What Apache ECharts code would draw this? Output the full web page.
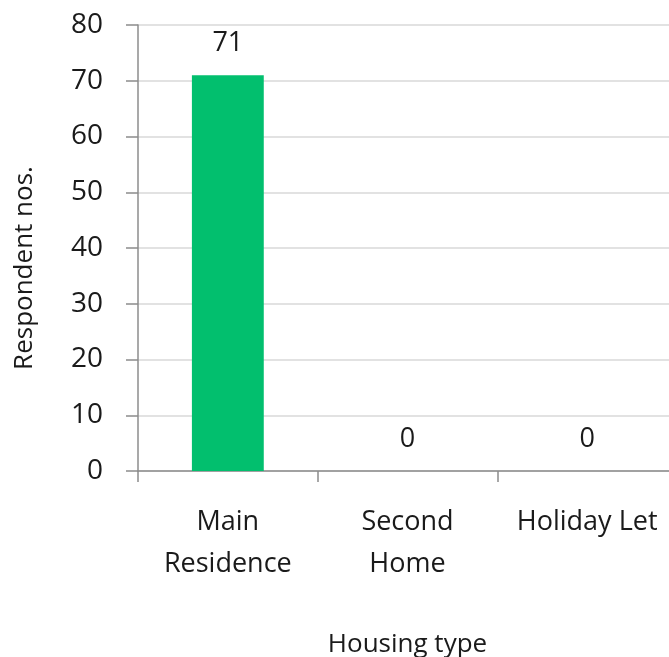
<!DOCTYPE html>
<html>
<head>
<meta charset="utf-8">
<script src="https://cdn.jsdelivr.net/npm/echarts@6/dist/echarts.min.js"></script>
<style>
html,body{margin:0;padding:0;background:#fff;}
#chart{width:669px;height:657px;}
</style>
</head>
<body>
<div id="chart"></div>
<script>
const categories = ['Main\nResidence', 'Second\nHome', 'Holiday Let'];
const respondents = [71, 0, 0];
const yMin = 0, yMax = 80, yInterval = 10;
const yAxisTitle = 'Respondent nos.';
const xAxisTitle = 'Housing type';

const FONT = 'Open Sans';
const TXT = '#1a1a1a';
const AXIS = '#8c8c8c';

const chart = echarts.init(document.getElementById('chart'), null, {renderer: 'canvas'});
chart.setOption({
  backgroundColor: '#ffffff',
  animation: false,
  grid: {left: 138, top: 25, width: 539, height: 446, containLabel: false, outerBoundsMode: 'none'},
  xAxis: {
    type: 'category',
    data: categories,
    name: xAxisTitle,
    nameLocation: 'middle',
    nameGap: 161,
    nameTextStyle: {fontFamily: FONT, fontSize: 26, color: TXT},
    axisLine: {show: true, lineStyle: {color: AXIS, width: 1.5}},
    axisTick: {show: true, length: 11, lineStyle: {color: AXIS, width: 1.5}},
    axisLabel: {fontFamily: FONT, fontSize: 27, color: TXT, lineHeight: 42, margin: 30, interval: 0},
    splitLine: {show: false}
  },
  yAxis: {
    type: 'value',
    min: yMin, max: yMax, interval: yInterval,
    name: yAxisTitle,
    nameLocation: 'middle',
    nameRotate: 90,
    nameGap: 100,
    nameTextStyle: {fontFamily: FONT, fontSize: 26, color: TXT, padding: [0, 40, 0, 0]},
    axisLine: {show: true, lineStyle: {color: AXIS, width: 1.5}},
    axisTick: {show: true, length: 12, lineStyle: {color: AXIS, width: 1.5}},
    axisLabel: {fontFamily: FONT, fontSize: 28, color: TXT, margin: 35},
    splitLine: {show: true, lineStyle: {color: '#d9d9d9', width: 1.5}}
  },
  series: [{
    type: 'bar',
    data: respondents,
    barCategoryGap: '60%',
    itemStyle: {color: '#02bf6e'},
    label: {show: true, position: 'top', distance: 18, fontFamily: FONT, fontSize: 27, color: TXT}
  }]
});
</script>
</body>
</html>
